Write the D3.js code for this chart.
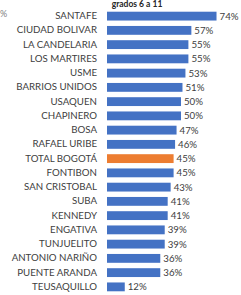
<!DOCTYPE html>
<html>
<head>
<meta charset="utf-8">
<script src="https://cdn.jsdelivr.net/npm/d3@7"></script>
<style>
  body { margin: 0; background: #fff; }
</style>
</head>
<body>
<div class="chart"></div>
<script>
// Paramètres
const width = 241;
const height = 295;
const margin = { top: 9, right: 0, bottom: 1, left: 107 };

// Données
const localidades = ["SANTAFE", "CIUDAD BOLIVAR", "LA CANDELARIA", "LOS MARTIRES", "USME",
  "BARRIOS UNIDOS", "USAQUEN", "CHAPINERO", "BOSA", "RAFAEL URIBE", "TOTAL BOGOTÁ",
  "FONTIBON", "SAN CRISTOBAL", "SUBA", "KENNEDY", "ENGATIVA", "TUNJUELITO",
  "ANTONIO NARIÑO", "PUENTE ARANDA", "TEUSAQUILLO"];
const valores = [74, 57, 55, 55, 53, 51, 50, 50, 47, 46, 45, 45, 43, 41, 41, 39, 39, 36, 36, 12];
const totalLabel = "TOTAL BOGOTÁ";
const titre = "grados 6 a 11";

const data = localidades.map((d, i) => ({ nom: d, val: valores[i] }));

const svg = d3.select(".chart")
  .append("svg")
  .attr("width", width)
  .attr("height", height)
  .style("font-family", "Lato, 'Open Sans', sans-serif");

// Echelles
const x = d3.scaleLinear()
  .domain([0, 100])
  .range([margin.left, margin.left + 148]);

const y = d3.scaleBand()
  .domain(localidades)
  .range([margin.top, height - margin.bottom])
  .paddingInner(0.38)
  .paddingOuter(0.19);

// Titre (en haut, presque coupé)
svg.append("text")
  .attr("x", 137)
  .attr("y", 7)
  .attr("text-anchor", "middle")
  .style("font-size", "8.5px")
  .style("font-weight", "bold")
  .style("fill", "#262626")
  .text(titre);

svg.append("text")
  .attr("x", 0)
  .attr("y", 17)
  .style("font-size", "9px")
  .style("fill", "#7f7f7f")
  .text("%");

// Barres
svg.append("g")
  .selectAll("rect")
  .data(data)
  .join("rect")
  .attr("x", x(0))
  .attr("y", d => y(d.nom))
  .attr("width", d => x(d.val) - x(0))
  .attr("height", y.bandwidth())
  .style("fill", d => d.nom === totalLabel ? "#ED7D31" : "#4472C4");

// Axe vertical (étiquettes)
svg.append("g")
  .attr("transform", `translate(${margin.left - 10}, 0)`)
  .call(d3.axisLeft(y).tickSize(0).tickPadding(0))
  .call(g => g.select(".domain").remove())
  .call(g => g.selectAll("text")
    .style("font-size", "9.7px")
    .style("font-family", "Lato, 'Open Sans', sans-serif")
    .style("fill", "#404040"));

// Valeurs
svg.append("g")
  .selectAll("text")
  .data(data)
  .join("text")
  .attr("x", d => x(d.val) + 3)
  .attr("y", d => y(d.nom) + y.bandwidth() / 2)
  .attr("dy", "0.35em")
  .style("font-size", "9.7px")
  .style("fill", "#404040")
  .text(d => d.val + "%");
</script>
</body>
</html>
